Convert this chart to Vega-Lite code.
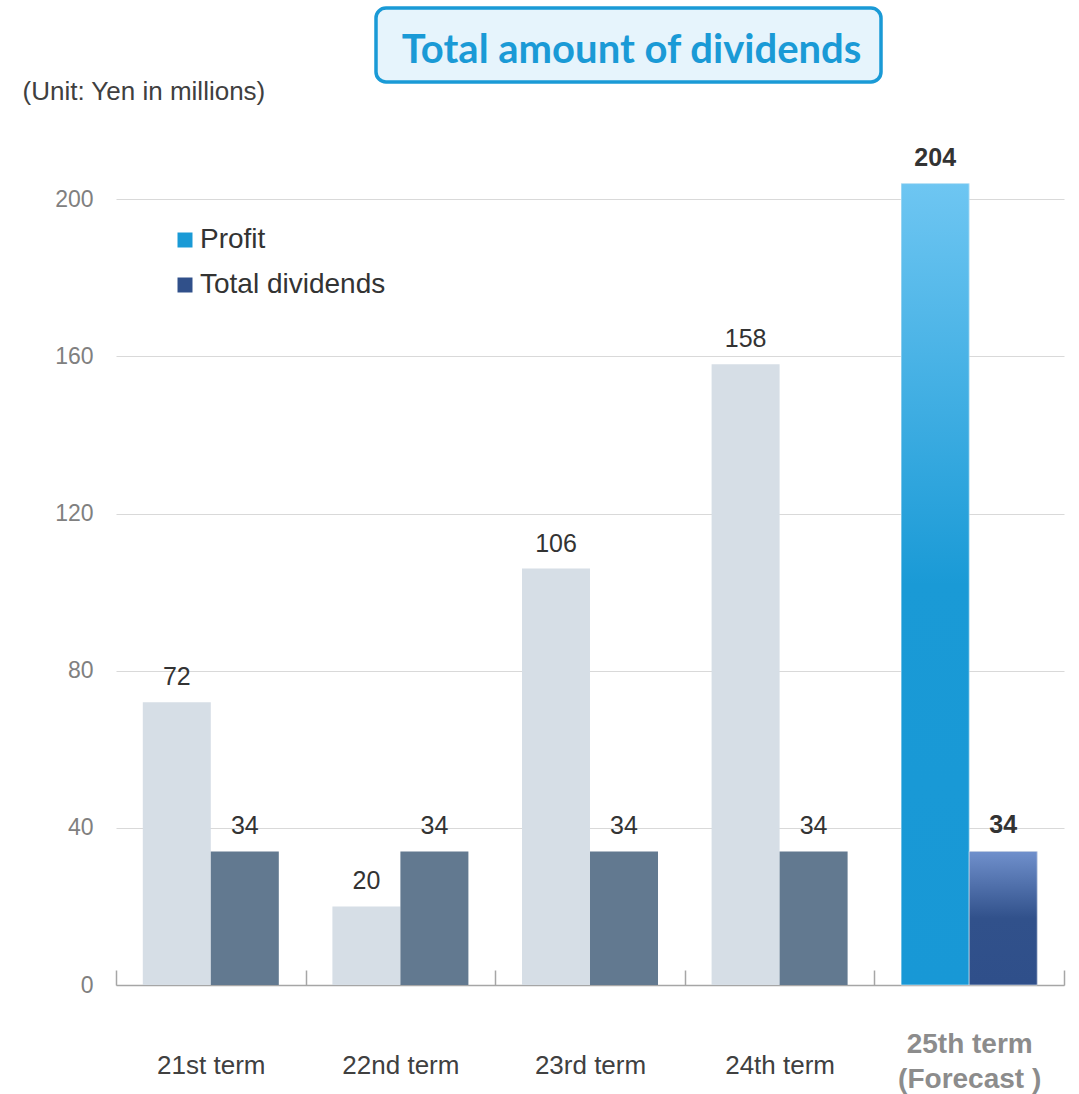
{
  "$schema": "https://vega.github.io/schema/vega-lite/v6.json",
  "padding": {"left": 22, "top": 6, "right": 10, "bottom": 5},
  "background": "white",
  "config": {"font": "Liberation Sans", "view": {"stroke": null}},
  "datasets": {
    "bars": [
      {"term": "21st term", "series": "Profit", "value": 72},
      {"term": "21st term", "series": "Total dividends", "value": 34},
      {"term": "22nd term", "series": "Profit", "value": 20},
      {"term": "22nd term", "series": "Total dividends", "value": 34},
      {"term": "23rd term", "series": "Profit", "value": 106},
      {"term": "23rd term", "series": "Total dividends", "value": 34},
      {"term": "24th term", "series": "Profit", "value": 158},
      {"term": "24th term", "series": "Total dividends", "value": 34},
      {"term": "25th term", "series": "Profit", "value": 204},
      {"term": "25th term", "series": "Total dividends", "value": 34}
    ],
    "heading": [{"heading": "Total amount of dividends"}],
    "spacer": [{"blank": ""}]
  },
  "vconcat": [
    {
      "hconcat": [
        {
          "width": 250, "height": 74,
          "data": {"name": "spacer"},
          "mark": {"type": "text"},
          "encoding": {"text": {"field": "blank"}}
        },
        {
          "width": 505, "height": 74,
          "data": {"name": "heading"},
          "view": {"fill": "#e6f4fc", "stroke": "#1a9ad6", "strokeWidth": 3.5, "cornerRadius": 10},
          "mark": {"type": "text", "font": "Lato", "fontSize": 40, "fontWeight": "bold", "color": "#1a9ad6", "baseline": "middle", "align": "center", "dy": 6, "dx": 3},
          "encoding": {"text": {"field": "heading"}}
        }
      ],
      "spacing": 10,
      "bounds": "flush"
    },
    {
      "width": 948, "height": 825,
      "data": {"name": "bars"},
      "encoding": {
        "x": {
          "field": "term", "type": "nominal", "sort": null,
          "scale": {"paddingInner": 0, "paddingOuter": 0},
          "axis": {
            "title": null, "labelAngle": 0,
            "domainColor": "#a6a6a6", "domainWidth": 1.5,
            "tickColor": "#a6a6a6", "tickWidth": 1.5, "tickSize": -15, "tickBand": "extent",
            "labelExpr": "datum.value == '25th term' ? ['25th term', '(Forecast )'] : datum.label",
            "labelLineHeight": 35,
            "labelBaseline": "middle",
            "labelPadding": {"condition": {"test": "datum.value == '25th term'", "value": 74}, "value": 95},
            "labelFontSize": {"condition": {"test": "datum.value == '25th term'", "value": 28}, "value": 26},
            "labelFontWeight": {"condition": {"test": "datum.value == '25th term'", "value": "bold"}, "value": "normal"},
            "labelColor": {"condition": {"test": "datum.value == '25th term'", "value": "#8c8c8c"}, "value": "#404040"}
          }
        },
        "xOffset": {
          "field": "series", "type": "nominal", "sort": ["Profit", "Total dividends"],
          "scale": {"paddingInner": 0, "paddingOuter": 0.394}
        },
        "y": {
          "field": "value", "type": "quantitative",
          "scale": {"domain": [0, 210]},
          "axis": {
            "values": [0, 40, 80, 120, 160, 200],
            "title": "(Unit: Yen in millions)",
            "titleAngle": 0, "titleAlign": "left", "titleBaseline": "alphabetic",
            "titleX": -94, "titleY": -61,
            "titleFontSize": 26, "titleFontWeight": "normal", "titleColor": "#404040",
            "domain": false, "ticks": false,
            "labelFontSize": 23, "labelColor": "#808080", "labelPadding": 23,
            "gridColor": "#d9d9d9", "gridWidth": 1.2
          }
        }
      },
      "layer": [
        {
          "transform": [{"filter": "datum.term != '25th term'"}],
          "mark": {"type": "bar"},
          "encoding": {
            "color": {
              "field": "series", "type": "nominal",
              "scale": {"domain": ["Profit", "Total dividends"], "range": ["#d6dee6", "#627990"]},
              "legend": null
            }
          }
        },
        {
          "transform": [{"filter": "datum.term == '25th term'"}],
          "mark": {"type": "bar"},
          "encoding": {
            "color": {
              "field": "series", "type": "nominal",
              "scale": {"domain": ["Profit", "Total dividends"], "range": ["#1a9ad6", "#30508a"]},
              "legend": {
                "title": null, "orient": "none", "legendX": 55, "legendY": 66,
                "symbolType": "square", "symbolSize": 225, "symbolStrokeWidth": 0,
                "labelFontSize": 28, "labelColor": "#333333", "labelFont": "Liberation Sans",
                "labelOffset": 1, "labelLimit": 500, "rowPadding": 17, "padding": 0
              }
            }
          }
        },
        {
          "transform": [{"filter": "datum.term == '25th term' && datum.series == 'Profit'"}],
          "mark": {
            "type": "bar", "stroke": "#ffffff", "strokeOpacity": 0.5, "strokeWidth": 1,
            "fill": {"gradient": "linear", "x1": 0, "y1": 0, "x2": 0, "y2": 1,
              "stops": [{"offset": 0, "color": "#6ec6f2"}, {"offset": 0.5, "color": "#1a9ad6"}, {"offset": 1, "color": "#1898d6"}]}
          }
        },
        {
          "transform": [{"filter": "datum.term == '25th term' && datum.series == 'Total dividends'"}],
          "mark": {
            "type": "bar", "stroke": "#ffffff", "strokeOpacity": 0.5, "strokeWidth": 1,
            "fill": {"gradient": "linear", "x1": 0, "y1": 0, "x2": 0, "y2": 1,
              "stops": [{"offset": 0, "color": "#7090cc"}, {"offset": 0.5, "color": "#31518b"}, {"offset": 1, "color": "#2f4f8a"}]}
          }
        },
        {
          "transform": [{"filter": "datum.term != '25th term'"}],
          "mark": {"type": "text", "dy": -25, "fontSize": 25, "color": "#333333", "baseline": "middle"},
          "encoding": {"text": {"field": "value", "type": "quantitative"}}
        },
        {
          "transform": [{"filter": "datum.term == '25th term'"}],
          "mark": {"type": "text", "dy": -26, "fontSize": 25, "fontWeight": "bold", "color": "#333333", "baseline": "middle"},
          "encoding": {"text": {"field": "value", "type": "quantitative"}}
        }
      ],
      "resolve": {"scale": {"color": "independent"}}
    }
  ],
  "spacing": 152,
  "bounds": "flush"
}
